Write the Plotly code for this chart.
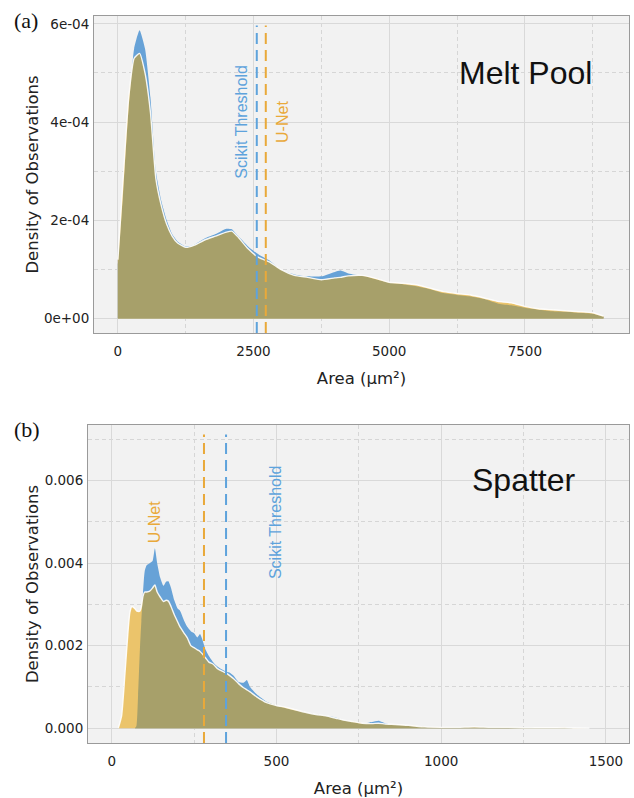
import numpy as np
import plotly.graph_objects as go

# ---------------- Data: (a) Melt Pool ----------------
mp_area = [0, 100, 200, 300, 400, 500, 600, 700, 800, 900, 1000, 1100, 1250, 1400,
           1600, 1800, 2000, 2100, 2200, 2400, 2600, 2800, 3000, 3250, 3500, 3750,
           4000, 4100, 4250, 4500, 4750, 5000, 5250, 5500, 5750, 6000, 6250, 6500,
           6750, 7000, 7250, 7500, 7750, 8000, 8250, 8500, 8750, 8950]
mp_scikit = [1.1, 2.6, 4.3, 5.5, 5.87, 5.5, 4.5, 3.0, 2.4, 2.0, 1.72, 1.57, 1.47, 1.5,
             1.63, 1.72, 1.83, 1.82, 1.7, 1.47, 1.3, 1.18, 1.0, 0.9, 0.86, 0.86,
             0.95, 0.98, 0.92, 0.87, 0.8, 0.73, 0.70, 0.66, 0.6, 0.52, 0.48, 0.45,
             0.4, 0.31, 0.27, 0.22, 0.18, 0.15, 0.14, 0.12, 0.10, 0.04]
mp_unet = [1.2, 2.9, 4.5, 5.3, 5.4, 5.0, 4.2, 2.85, 2.3, 1.92, 1.68, 1.54, 1.45, 1.49,
           1.6, 1.68, 1.76, 1.78, 1.68, 1.42, 1.24, 1.15, 1.0, 0.88, 0.84, 0.79,
           0.83, 0.84, 0.87, 0.88, 0.82, 0.74, 0.72, 0.69, 0.62, 0.55, 0.51, 0.48,
           0.42, 0.35, 0.32, 0.25, 0.2, 0.18, 0.16, 0.14, 0.12, 0.05]
mp_scale = 1e-4
mp_thresholds = {"Scikit Threshold": 2560, "U-Net": 2726}
mp_xticks = [0, 2500, 5000, 7500]
mp_yticks = [0, 2e-4, 4e-4, 6e-4]
mp_yticktext = ["0e+00", "2e-04", "4e-04", "6e-04"]

# ---------------- Data: (b) Spatter ----------------
sp_area = [20, 30, 40, 50, 55, 61, 70, 75, 80, 86, 90, 95, 100, 106, 115, 124, 131,
           138, 147, 157, 165, 172, 180, 190, 200, 207, 220, 230, 240, 250, 260,
           268, 275, 285, 295, 308, 320, 335, 349, 357, 370, 385, 400, 410, 420,
           440, 470, 500, 530, 560, 590, 620, 650, 680, 700, 730, 760, 790, 810,
           830, 860, 900, 950, 1000, 1050, 1100, 1150, 1200, 1250, 1300, 1350,
           1400, 1450]
sp_scikit = [0, 0, 0, 0, 0, 0, 0, 0.05, 0.8, 2.0, 2.6, 3.3, 3.8, 3.95, 4.0, 4.05,
             4.36, 4.0, 3.65, 3.45, 3.55, 3.56, 3.4, 3.1, 2.9, 2.85, 2.6, 2.45,
             2.35, 2.3, 2.2, 2.28, 2.15, 1.9, 1.75, 1.6, 1.5, 1.42, 1.36, 1.35,
             1.27, 1.12, 1.1, 1.17, 1.0, 0.82, 0.64, 0.55, 0.48, 0.42, 0.38, 0.33,
             0.3, 0.26, 0.2, 0.15, 0.11, 0.15, 0.18, 0.12, 0.08, 0.06, 0.03, 0.01,
             0.02, 0.02, 0.02, 0.015, 0.01, 0.005, 0.003, 0, 0]
sp_unet = [0, 0.3, 1.3, 2.4, 2.8, 2.95, 2.9, 2.85, 2.83, 2.84, 2.95, 3.2, 3.3, 3.3,
           3.32, 3.4, 3.47, 3.3, 3.18, 3.07, 3.1, 3.08, 2.95, 2.75, 2.58, 2.46,
           2.3, 2.18, 2.0, 1.95, 1.9, 1.86, 1.8, 1.7, 1.6, 1.55, 1.45, 1.38, 1.33,
           1.28, 1.2, 1.08, 0.98, 0.93, 0.88, 0.76, 0.62, 0.55, 0.5, 0.44, 0.38,
           0.33, 0.3, 0.24, 0.2, 0.16, 0.12, 0.11, 0.12, 0.1, 0.09, 0.07, 0.03,
           0.02, 0.02, 0.03, 0.02, 0.02, 0.01, 0.01, 0.01, 0.005, 0]
sp_scale = 1e-3
sp_thresholds = {"U-Net": 280, "Scikit Threshold": 347}
sp_xticks = [0, 500, 1000, 1500]
sp_yticks = [0, 0.002, 0.004, 0.006]
sp_yticktext = ["0.000", "0.002", "0.004", "0.006"]

# ---------------- Styles ----------------
BLUE_FILL = "#67a2d7"
ORANGE_FILL = "#ebc46b"
OLIVE_FILL = "#a7a06a"
BLUE_LINE = "#5ea3dc"
ORANGE_LINE = "#e9a93a"
TICK_FONT = dict(family="DejaVu Sans", size=13.5, color="#222222")
TITLE_FONT = dict(family="DejaVu Sans", size=16.5, color="#222222")
W, H = 634, 798

fig = go.Figure()


def add_panel(xs, blue, orange, scale, xa, ya):
    xs = np.asarray(xs, float)
    b = np.asarray(blue, float) * scale
    o = np.asarray(orange, float) * scale
    m = np.minimum(b, o)
    common = dict(mode="lines", fill="tozeroy", xaxis=xa, yaxis=ya,
                  hoverinfo="skip", showlegend=False)
    sp = dict(shape="spline", smoothing=0.5)
    fig.add_trace(go.Scatter(x=xs, y=b, line=dict(width=0, color=BLUE_FILL, **sp),
                             fillcolor=BLUE_FILL, **common))
    fig.add_trace(go.Scatter(x=xs, y=o, line=dict(width=0, color=ORANGE_FILL, **sp),
                             fillcolor=ORANGE_FILL, **common))
    fig.add_trace(go.Scatter(x=xs, y=m, line=dict(width=0, color=OLIVE_FILL, **sp),
                             fillcolor=OLIVE_FILL, **common))
    fig.add_trace(go.Scatter(x=xs, y=o, mode="lines", xaxis=xa, yaxis=ya,
                             line=dict(width=1.4, color="rgba(255,255,255,0.9)", **sp),
                             hoverinfo="skip", showlegend=False))


add_panel(mp_area, mp_scikit, mp_unet, mp_scale, "x", "y")
add_panel(sp_area, sp_scikit, sp_unet, sp_scale, "x2", "y2")

line_colors = {"Scikit Threshold": BLUE_LINE, "U-Net": ORANGE_LINE}
for th, xr, yr in [(mp_thresholds, "x", "y domain"), (sp_thresholds, "x2", "y2 domain")]:
    for name, val in th.items():
        fig.add_shape(type="line", xref=xr, yref=yr, x0=val, x1=val, y0=0, y1=0.97,
                      line=dict(color=line_colors[name], width=2, dash="11px,6px"))

# threshold labels
lab_font = lambda c: dict(family="Liberation Sans", size=16, color=c)
fig.add_annotation(x=mp_thresholds["Scikit Threshold"] - 280, y=4.0e-4, xref="x", yref="y",
                   text="Scikit Threshold", textangle=-90, showarrow=False,
                   font=lab_font(BLUE_LINE))
fig.add_annotation(x=mp_thresholds["U-Net"] + 296, y=4.0e-4, xref="x", yref="y",
                   text="U-Net", textangle=-90, showarrow=False,
                   font=lab_font(ORANGE_LINE))
fig.add_annotation(x=sp_thresholds["U-Net"] - 148, y=0.0050, xref="x2", yref="y2",
                   text="U-Net", textangle=-90, showarrow=False,
                   font=lab_font(ORANGE_LINE))
fig.add_annotation(x=sp_thresholds["Scikit Threshold"] + 152, y=0.0050, xref="x2", yref="y2",
                   text="Scikit Threshold", textangle=-90, showarrow=False,
                   font=lab_font(BLUE_LINE))

# panel titles
fig.add_annotation(x=7510, y=5.0e-4, xref="x", yref="y", text="Melt Pool", showarrow=False,
                   font=dict(family="Liberation Sans", size=32, color="#111111"))
fig.add_annotation(x=1252, y=0.00602, xref="x2", yref="y2", text="Spatter", showarrow=False,
                   font=dict(family="Liberation Sans", size=32, color="#111111"))

# panel letters
fig.add_annotation(x=26 / W, y=1 - 21 / H, xref="paper", yref="paper", text="(a)",
                   xanchor="center", yanchor="middle",
                   showarrow=False, font=dict(family="Liberation Serif", size=22, color="#111111"))
fig.add_annotation(x=27 / W, y=1 - 429 / H, xref="paper", yref="paper", text="(b)",
                   xanchor="center", yanchor="middle",
                   showarrow=False, font=dict(family="Liberation Serif", size=22, color="#111111"))

axis_common = dict(showline=True, mirror=True, linecolor="#9a9a9a", linewidth=1,
                   showgrid=True, gridcolor="#d9d9d9", gridwidth=1, zeroline=False,
                   ticks="", tickfont=TICK_FONT, automargin=False)
minor_common = dict(showgrid=True, gridcolor="#d6d6d6", gridwidth=1, griddash="4px,3px")

fig.update_layout(
    width=W, height=H, margin=dict(l=0, r=0, t=0, b=0),
    paper_bgcolor="white", plot_bgcolor="#f2f2f2",
    xaxis=dict(domain=[94 / W, 629 / W], range=[-440, 9420], anchor="y",
               tickvals=mp_xticks, minor=dict(dtick=1250, tick0=0, **minor_common),
               ticklabelstandoff=6,
               title=dict(text="Area (µm²)", font=TITLE_FONT, standoff=14), **axis_common),
    yaxis=dict(domain=[1 - 333 / H, 1 - 16 / H], range=[-2.93e-5, 6.16e-4], anchor="x",
               tickvals=mp_yticks, ticktext=mp_yticktext, ticklabelstandoff=1,
               minor=dict(dtick=1e-4, tick0=0, **minor_common),
               title=dict(text="Density of Observations", font=TITLE_FONT, standoff=1),
               **axis_common),
    xaxis2=dict(domain=[88 / W, 629 / W], range=[-72, 1570], anchor="y2",
                tickvals=sp_xticks, minor=dict(dtick=250, tick0=0, **minor_common),
                ticklabelstandoff=6,
                title=dict(text="Area (µm²)", font=TITLE_FONT, standoff=14), **axis_common),
    yaxis2=dict(domain=[1 - 743 / H, 1 - 425 / H], range=[-0.00036, 0.00735], anchor="x2",
                tickvals=sp_yticks, ticktext=sp_yticktext, ticklabelstandoff=1,
                minor=dict(dtick=0.001, tick0=0, **minor_common),
                title=dict(text="Density of Observations", font=TITLE_FONT, standoff=1),
                **axis_common),
)

fig.write_html("out.html")
